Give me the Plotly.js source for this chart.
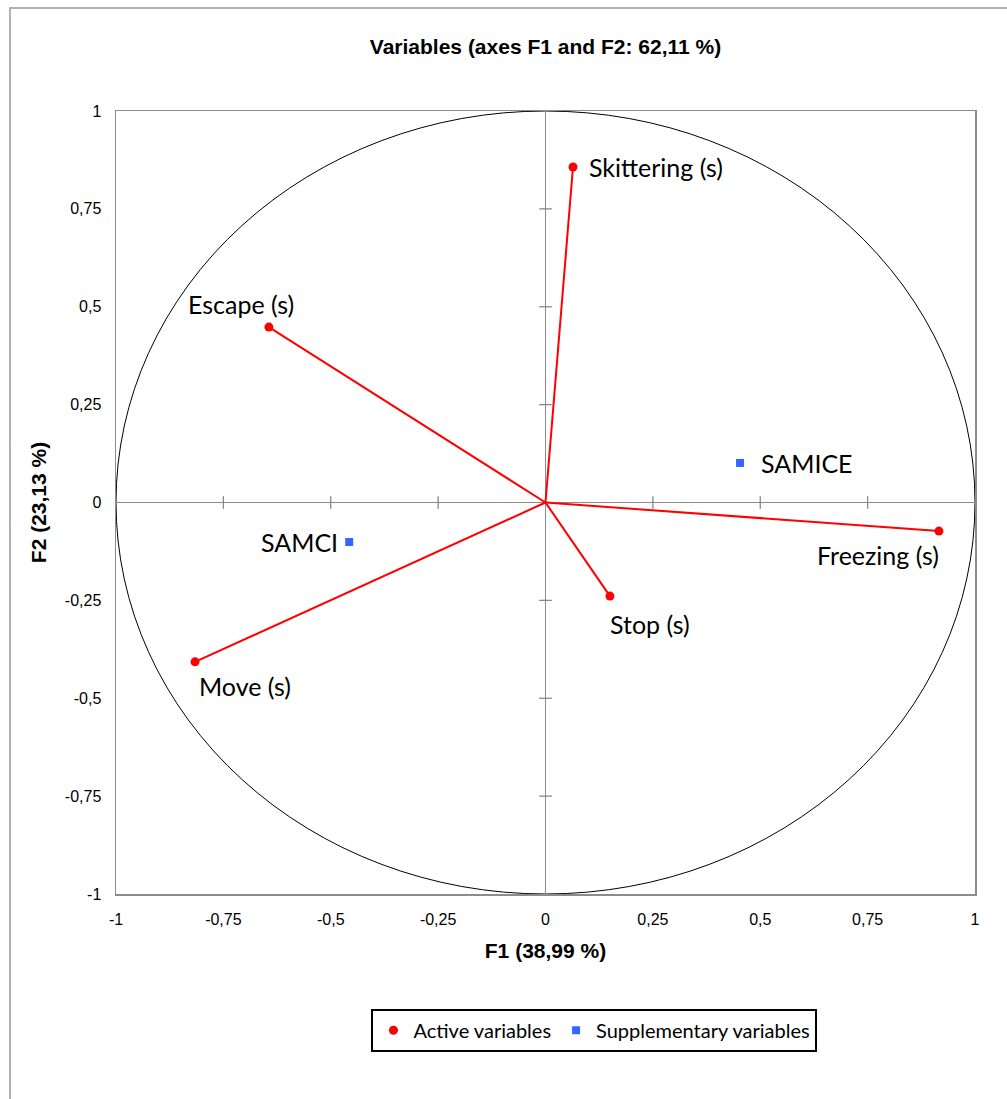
<!DOCTYPE html>
<html>
<head>
<meta charset="utf-8">
<script src="https://cdn.plot.ly/plotly-3.0.1.min.js"></script>
<style>
html,body{margin:0;padding:0;background:#fff;}
#chart{width:1007px;height:1099px;}
</style>
</head>
<body>
<div id="chart"></div>
<script>
// Active variables
const activeNames = ["Skittering (s)", "Escape (s)", "Freezing (s)", "Stop (s)", "Move (s)"];
const activeF1 = [0.064, -0.644, 0.916, 0.150, -0.816];
const activeF2 = [0.857, 0.448, -0.073, -0.239, -0.407];

// Supplementary variables
const suppNames = ["SAMICE", "SAMCI"];
const suppF1 = [0.453, -0.457];
const suppF2 = [0.101, -0.101];

// Ticks
const tickVals = [-1, -0.75, -0.5, -0.25, 0, 0.25, 0.5, 0.75, 1];
const tickText = ["-1", "-0,75", "-0,5", "-0,25", "0", "0,25", "0,5", "0,75", "1"];

// label placement styles (anchor, pixel offsets)
const activeLabelStyle = [
  {xanchor: "left", xshift: 14, yshift: 0},
  {xanchor: "center", xshift: -28, yshift: 23},
  {xanchor: "right", xshift: 2, yshift: -24},
  {xanchor: "left", xshift: -2, yshift: -28},
  {xanchor: "left", xshift: 2, yshift: -24}
];
const suppLabelStyle = [
  {xanchor: "left", xshift: 19, yshift: 0},
  {xanchor: "right", xshift: -9, yshift: 0}
];

const lineX = [], lineY = [];
activeF1.forEach((v, i) => { lineX.push(0, v, null); lineY.push(0, activeF2[i], null); });

const innerTicks = tickVals.filter(v => v !== 0 && Math.abs(v) !== 1);

const labelFont = {family: "Lato, 'Open Sans', sans-serif", size: 25, color: "#000"};
const arial = "'Liberation Sans', Arial, sans-serif";

const traces = [
  {x: innerTicks, y: innerTicks.map(() => 0), mode: "markers", type: "scatter",
   marker: {symbol: "line-ns", size: 9, line: {color: "#888", width: 1.3}},
   hoverinfo: "skip", showlegend: false},
  {x: innerTicks.map(() => 0), y: innerTicks, mode: "markers", type: "scatter",
   marker: {symbol: "line-ew", size: 9, line: {color: "#888", width: 1.3}},
   hoverinfo: "skip", showlegend: false},
  {x: lineX, y: lineY, mode: "lines", type: "scatter",
   line: {color: "#ff0000", width: 2}, hoverinfo: "skip", showlegend: false},
  {x: activeF1, y: activeF2, mode: "markers", type: "scatter",
   name: "Active variables",
   marker: {symbol: "circle", size: 9, color: "#ff0000"}},
  {x: suppF1, y: suppF2, mode: "markers", type: "scatter",
   name: "Supplementary variables",
   marker: {symbol: "square", size: 8, color: "#3366ff"}}
];

const annotations = [];
activeNames.forEach((n, i) => annotations.push(Object.assign({
  x: activeF1[i], y: activeF2[i], xref: "x", yref: "y", text: n, showarrow: false,
  yanchor: "middle", font: labelFont}, activeLabelStyle[i])));
suppNames.forEach((n, i) => annotations.push(Object.assign({
  x: suppF1[i], y: suppF2[i], xref: "x", yref: "y", text: n, showarrow: false,
  yanchor: "middle", font: labelFont}, suppLabelStyle[i])));

const axisCommon = {
  range: [-1, 1], tickvals: tickVals, ticktext: tickText,
  showgrid: false, zeroline: true, zerolinecolor: "#8c8c8c", zerolinewidth: 1.5,
  showline: true, mirror: true, linecolor: "#8c8c8c", linewidth: 1.5,
  ticks: "", tickfont: {family: arial, size: 16, color: "#000"},
  fixedrange: true
};

const layout = {
  width: 1007, height: 1099,
  margin: {l: 116, r: 32, t: 111, b: 205},
  paper_bgcolor: "#fff", plot_bgcolor: "#fff",
  title: {text: "<b>Variables (axes F1 and F2: 62,11 %)</b>",
          font: {family: arial, size: 21, color: "#000"},
          x: 0.5, xanchor: "center", y: 0.958, yanchor: "middle", xref: "paper"},
  xaxis: Object.assign({}, axisCommon, {
    title: {text: "<b>F1 (38,99 %)</b>", font: {family: arial, size: 21, color: "#000"}, standoff: 16},
    ticklabelstandoff: 10
  }),
  yaxis: Object.assign({}, axisCommon, {
    title: {text: "<b>F2 (23,13 %)</b>", font: {family: arial, size: 21, color: "#000"}, standoff: 12},
    ticklabelstandoff: 10
  }),
  showlegend: true,
  legend: {orientation: "h", x: 0.557, xanchor: "center", y: -0.174, yanchor: "middle",
           bordercolor: "#000", borderwidth: 2, bgcolor: "#fff",
           font: {family: "Lato, 'Open Sans', sans-serif", size: 20, color: "#000"},
           itemwidth: 30},
  annotations: annotations,
  shapes: [
    {type: "rect", xref: "paper", yref: "paper", x0: -0.1234, x1: 1.06, y0: -0.33, y1: 1.1315,
     line: {color: "#999", width: 1.5}, layer: "below"},
    {type: "circle", xref: "x", yref: "y", x0: -1, y0: -1, x1: 1, y1: 1,
     line: {color: "#000", width: 1}, layer: "below"}
  ]
};

Plotly.newPlot("chart", traces, layout, {displayModeBar: false, staticPlot: true});
</script>
</body>
</html>
